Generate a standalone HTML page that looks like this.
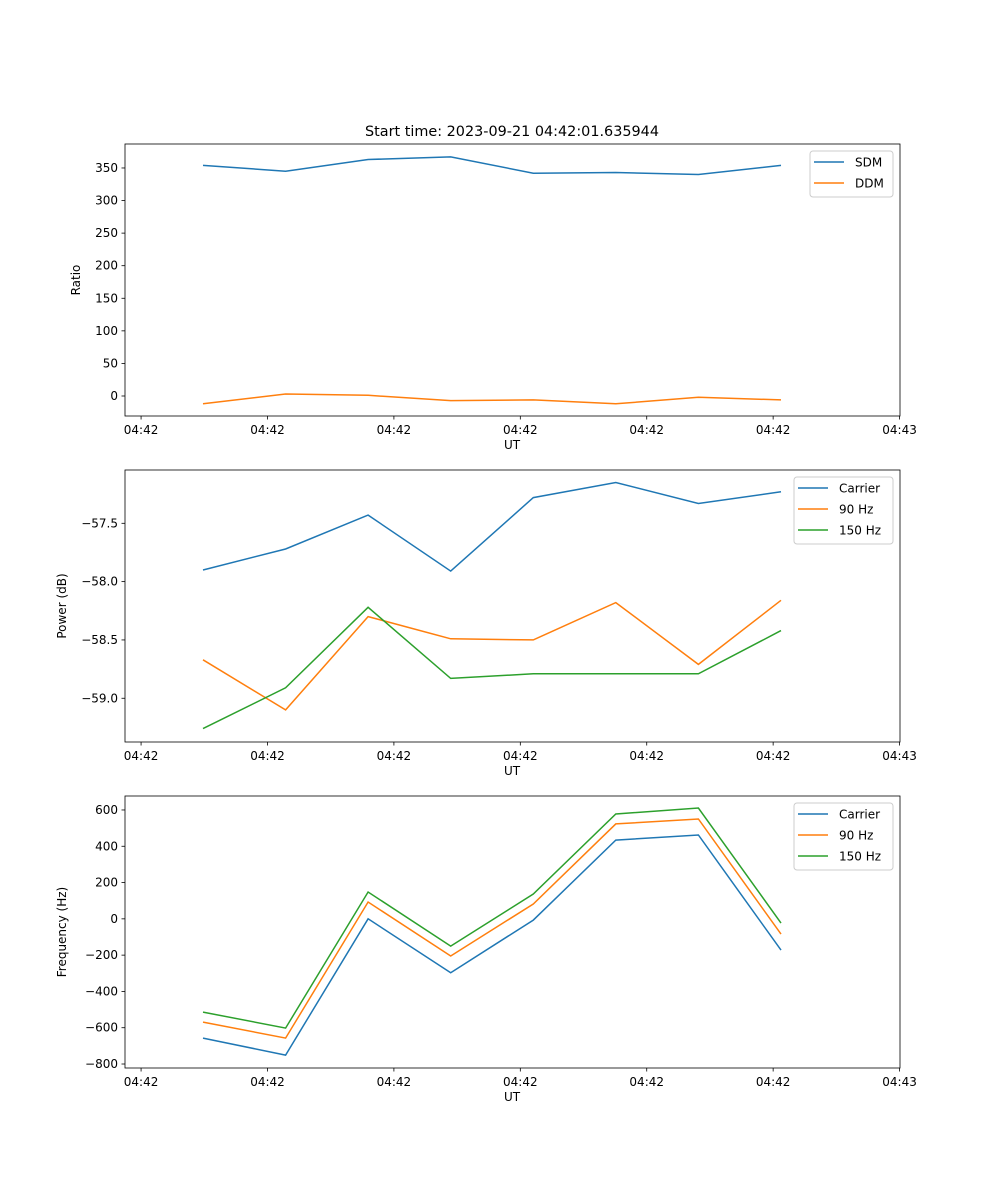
<!DOCTYPE html>
<html><head><meta charset="utf-8">
<style>
body{margin:0;background:#fff;}
svg{display:block;font-family:"DejaVu Sans","Liberation Sans",sans-serif;}
</style></head>
<body>
<svg id="chart" width="1000" height="1200" xmlns="http://www.w3.org/2000/svg"></svg>
<script>
const pointIndex = [0,1,2,3,4,5,6,7];
const xTickLabels = ["04:42","04:42","04:42","04:42","04:42","04:42","04:43"];
const sdm = [354,345,363,367,342,343,340,354];
const ddm = [-12,3,1,-7,-6,-12,-2,-6];
const carrierPower = [-57.90,-57.72,-57.43,-57.91,-57.28,-57.15,-57.33,-57.23];
const hz90Power = [-58.67,-59.10,-58.30,-58.49,-58.50,-58.18,-58.71,-58.16];
const hz150Power = [-59.26,-58.91,-58.22,-58.83,-58.79,-58.79,-58.79,-58.42];
const carrierFreq = [-657,-751,0,-297,-7,434,462,-172];
const hz90Freq = [-569,-657,93,-205,82,523,550,-84];
const hz150Freq = [-514,-602,148,-150,137,578,611,-23];
const ratioTicks = [0,50,100,150,200,250,300,350];
const powerTicks = [-59.0,-58.5,-58.0,-57.5];
const freqTicks = [-800,-600,-400,-200,0,200,400,600];

const svg = document.getElementById('chart');
const NS = 'http://www.w3.org/2000/svg';
const C = {blue:'#1f77b4',orange:'#ff7f0e',green:'#2ca02c'};
function mk(tag, attrs, parent){const e=document.createElementNS(NS,tag);for(const k in attrs)e.setAttribute(k,attrs[k]);(parent||svg).appendChild(e);return e;}
const X0=125,X1=900;
function xs(i){return 203 + i*82.57;}
function fmt(v,dec){const s=v.toFixed(dec);return s.replace('-','\u2212');}

function panel(name, top, ymin, ymax, ticks, dec, ylabel, series, legendX, legendW, title){
  const bot=top+272;
  const g=mk('g',{});
  
  
  const ys=v=>bot-(v-ymin)/(ymax-ymin)*272;
  const clip=mk('clipPath',{id:'c'+name},g);mk('rect',{x:X0,y:top,width:X1-X0,height:272},clip);
  const lg=mk('g',{'clip-path':'url(#c'+name+')'},g);
  series.forEach(s=>{
    const p=mk('path',{d:s.vals.map((v,i)=>(i?'L':'M')+xs(pointIndex[i]).toFixed(1)+','+ys(v).toFixed(1)).join(''),fill:'none',stroke:s.color,'stroke-width':1.5},lg);
    
    
  });
  mk('rect',{x:X0,y:top,width:X1-X0,height:272,fill:'none',stroke:'#000','stroke-width':0.8},g);
  ticks.forEach(t=>{const y=ys(t);mk('line',{x1:X0-3.5,x2:X0,y1:y,y2:y,stroke:'#000','stroke-width':0.8},g);
    const tx=mk('text',{x:X0-7,y:y+4,'text-anchor':'end','font-size':12},g);tx.textContent=fmt(t,dec);
    
    });
  xTickLabels.forEach((l,k)=>{const x=xs(-0.75+k*1.531);mk('line',{x1:x,x2:x,y1:bot,y2:bot+3.5,stroke:'#000','stroke-width':0.8},g);
    const tx=mk('text',{x:x,y:bot+18,'text-anchor':'middle','font-size':12},g);tx.textContent=l;
    
    });
  const xl=mk('text',{x:512,y:bot+33,'text-anchor':'middle','font-size':12},g);xl.textContent='UT';
  
  
  const lx = name==='power-panel'||name==='frequency-panel' ? 66 : 80;
  const yl=mk('text',{x:lx,y:top+136,'text-anchor':'middle','font-size':12,transform:'rotate(-90 '+lx+' '+(top+136)+')'},g);yl.textContent=ylabel;
  
  
  if(title){const t=mk('text',{x:512,y:top-8,'text-anchor':'middle','font-size':14.4},g);t.textContent=title;
    
    }
  const lh=series.length*21+4;
  const lgd=mk('g',{},g);
  
  
  mk('rect',{x:legendX,y:top+7,width:legendW,height:lh,rx:3,fill:'#fff','fill-opacity':0.8,stroke:'#ccc','stroke-width':1},lgd);
  series.forEach((s,i)=>{const y=top+18+i*21;
    mk('line',{x1:legendX+4,x2:legendX+34,y1:y,y2:y,stroke:s.color,'stroke-width':1.5},lgd);
    const t=mk('text',{x:legendX+45,y:y+4.5,'font-size':12},lgd);t.textContent=s.label;
    
    });
}
panel('ratio-panel',144,-30.7,386.8,ratioTicks,0,'Ratio',
  [{key:'sdm',label:'SDM',vals:sdm,color:C.blue},{key:'ddm',label:'DDM',vals:ddm,color:C.orange}],810,83,'Start time: 2023-09-21 04:42:01.635944');
panel('power-panel',470,-59.375,-57.043,powerTicks,1,'Power (dB)',
  [{key:'carrier-power',label:'Carrier',vals:carrierPower,color:C.blue},{key:'hz90-power',label:'90 Hz',vals:hz90Power,color:C.orange},{key:'hz150-power',label:'150 Hz',vals:hz150Power,color:C.green}],794,99);
panel('frequency-panel',796,-822,677,freqTicks,0,'Frequency (Hz)',
  [{key:'carrier-freq',label:'Carrier',vals:carrierFreq,color:C.blue},{key:'hz90-freq',label:'90 Hz',vals:hz90Freq,color:C.orange},{key:'hz150-freq',label:'150 Hz',vals:hz150Freq,color:C.green}],794,99);
</script>
</body></html>
